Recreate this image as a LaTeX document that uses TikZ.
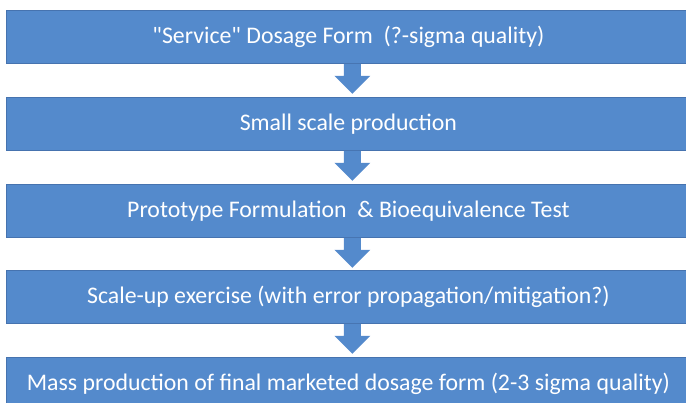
\documentclass[tikz,border=0pt]{standalone}
\usepackage{fontspec}
\setmainfont{Carlito}
\usetikzlibrary{calc}
\font\straightq="Carlito" at 23.8pt
\newcommand{\sq}{{\straightq\char34}}
\definecolor{barblue}{RGB}{84,138,204}
\definecolor{barline}{RGB}{70,115,175}
\tikzset{
  bar/.style={fill=barblue, draw=barline, line width=0.8pt, minimum width=684pt, minimum height=53pt,
    inner sep=0pt, text=white, font=\fontsize{23.8}{28}\selectfont, anchor=north west},
}
\newcommand{\blockarrow}[2]{%
  \fill[barblue] ($(#1.south)+(4pt,0)+(-8.5pt,0)$) -- ++(0,-12pt) -- ++(-9.5pt,0)
    -- ($(#1.south)+(4pt,-30pt)$) -- ($(#1.south)+(4pt,0)+(18pt,-12pt)$) -- ++(-9.5pt,0)
    -- ($(#1.south)+(4pt,0)+(8.5pt,0)$) -- cycle;}
\begin{document}
\begin{tikzpicture}[x=1pt,y=1pt]
\useasboundingbox (0,0) rectangle (686,403);
\begin{scope}
\clip (0,0) rectangle (686,403);
\node[bar] (b1) at (6,393) {\sq Service\sq{} Dosage Form\ \ (?-sigma quality)};
\node[bar] (b2) at (6,306) {Small scale production};
\node[bar] (b3) at (6,219) {Prototype Formulation\ \ \& Bioequivalence Test};
\node[bar] (b4) at (6,133) {Scale-up exercise (with error propagation/mitigation?)};
\node[bar] (b5) at (6,46) {Mass production of final marketed dosage form (2-3 sigma quality)};
\blockarrow{b1}{b2}
\blockarrow{b2}{b3}
\blockarrow{b3}{b4}
\blockarrow{b4}{b5}
\end{scope}
\end{tikzpicture}
\end{document}
